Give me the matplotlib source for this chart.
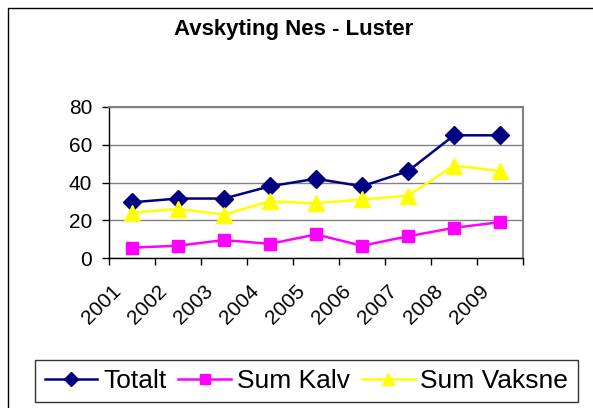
import matplotlib
matplotlib.use("Agg")
import matplotlib.pyplot as plt
from matplotlib.patches import Rectangle
from matplotlib.transforms import ScaledTranslation
import numpy as np

years = ["2001", "2002", "2003", "2004", "2005", "2006", "2007", "2008", "2009"]
totalt = [29.5, 31.5, 31.5, 38, 42, 38, 46, 65, 65]
sum_kalv = [5.5, 6.5, 9.5, 7.5, 12.5, 6.5, 11.5, 16, 19]
sum_vaksne = [24, 26, 23, 30, 29, 31, 33, 49, 46]

plt.rcParams['font.family'] = ['Liberation Sans', 'DejaVu Sans']

W, H = 593, 408
fig = plt.figure(figsize=(W / 100, H / 100), dpi=100)

# outer chart frame
fig.patches.append(Rectangle((8 / W, -0.1), 1.2, (H - 8) / H + 0.1, transform=fig.transFigure,
                             fill=False, edgecolor='black', linewidth=1.0))

left, right, top, bottom = 109, 523, 107, 258
ax = fig.add_axes([left / W, 1 - bottom / H, (right - left) / W, (bottom - top) / H])

x = np.arange(len(years))
ax.plot(x, totalt, color='#000080', marker='D', markersize=9, linewidth=1.8, label='Totalt')
ax.plot(x, sum_kalv, color='#FF00FF', marker='s', markersize=9, linewidth=1.8, label='Sum Kalv')
ax.plot(x, sum_vaksne, color='#FFFF00', marker='^', markersize=11, linewidth=1.8, label='Sum Vaksne')

ax.set_xlim(-0.5, len(years) - 0.5)
ax.set_ylim(0, 80)
ax.set_yticks([0, 20, 40, 60, 80])
ax.yaxis.grid(True, color='#808080', linewidth=1.0)
ax.set_axisbelow(True)

ax.set_xticks(np.arange(len(years) + 1) - 0.5)
ax.set_xticklabels([])
ax.set_xticks(x, minor=True)
ax.set_xticklabels(years, minor=True, rotation=45, ha='right', va='top',
                   rotation_mode='anchor', fontsize=15)
ax.tick_params(axis='x', which='minor', length=0, pad=17)
ax.tick_params(axis='x', which='major', length=5, direction='out', width=1)
ax.tick_params(axis='y', labelsize=15, length=5, direction='out', width=1, pad=7)
shift = ScaledTranslation(-21 / 100, 0, fig.dpi_scale_trans)
for lbl in ax.get_xticklabels(minor=True):
    lbl.set_transform(lbl.get_transform() + shift)

for s in ['top', 'right']:
    ax.spines[s].set_color('#808080')
    ax.spines[s].set_linewidth(1.5)
for s in ['left', 'bottom']:
    ax.spines[s].set_color('black')
    ax.spines[s].set_linewidth(1.0)

fig.text(294 / W, 1 - 30 / H, "Avskyting Nes - Luster", ha='center', va='center',
         fontsize=16, fontweight='bold')

leg = fig.legend(loc='center', bbox_to_anchor=(306.5 / W, 1 - 381 / H), ncol=3,
                 fontsize=19, frameon=True, fancybox=False, edgecolor='black',
                 handlelength=2.0, handletextpad=0.22, columnspacing=0.45,
                 borderpad=0.35, borderaxespad=0, markerscale=0.8)
leg.get_frame().set_linewidth(1.0)

fig.savefig("out.png", dpi=100)
